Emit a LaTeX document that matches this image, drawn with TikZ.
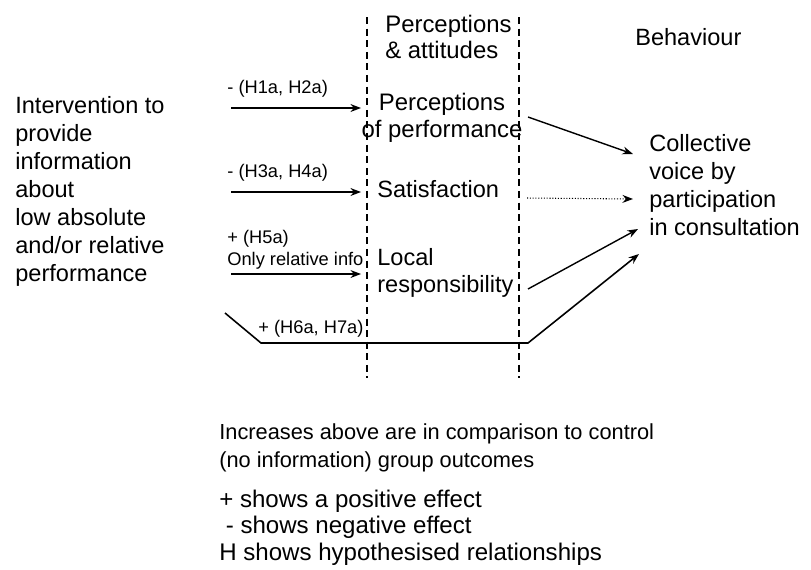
\documentclass[tikz,border=0pt]{standalone}
\usepackage{fontspec}
\setmainfont{Liberation Sans}
\usetikzlibrary{arrows.meta, positioning}

\begin{document}
\begin{tikzpicture}[x=0.02cm, y=-0.02cm,
      txt/.style={inner sep=0pt, align=left, font=\fontsize{13.4}{15.9}\selectfont},
      lbl/.style={inner sep=0pt, align=left, font=\fontsize{10.4}{12.5}\selectfont},
      arr/.style={line width=0.8pt, -{Stealth[length=6pt, width=4.5pt]}},
      guide/.style={line width=0.8pt, dash pattern=on 4pt off 2.6pt}]
    \useasboundingbox (0,0) rectangle (811,569);

    % column guides
    \coordinate (g1t) at (367,17); \coordinate (g1b) at (367,378);
    \coordinate (g2t) at (519,17); \coordinate (g2b) at (519,378);
    \draw[guide] (g1t) -- (g1b);
    \draw[guide] (g2t) -- (g2b);

    % headings (base = last line)
    \node[txt, anchor=base west, font=\fontsize{13.6}{14.8}\selectfont] (hd) at (385,58) {Perceptions\\\& attitudes};
    \node[txt, anchor=base west] (bh) at (635,45) {Behaviour};

    % boxes
    \node[txt, anchor=base west] (iv) at (15,281) {Intervention to\\provide\\information\\about\\low absolute\\and/or relative\\performance};
    \node[txt, align=center, anchor=base, font=\fontsize{13.6}{15.3}\selectfont] (pp) at (442,137) {Perceptions\\of performance};
    \node[txt, anchor=base west] (sf) at (377,197) {Satisfaction};
    \node[txt, anchor=base west, font=\fontsize{13.4}{15.3}\selectfont] (lr) at (377,292) {Local\\responsibility};
    \node[txt, anchor=base west] (cv) at (649,235) {Collective\\voice by\\participation\\in consultation};

    % hypothesis labels
    \node[lbl, anchor=base west] (l1) at (227,93) {- (H1a, H2a)};
    \node[lbl, anchor=base west] (l2) at (227,177) {- (H3a, H4a)};
    \node[lbl, anchor=base west] (l3) at (227,265) {+ (H5a)\\Only relative info};
    \node[lbl, anchor=base west] (l4) at (258,333) {+ (H6a, H7a)};

    % intervention -> perceptions & attitudes
    \coordinate (a1) at (231,108);
    \coordinate (a2) at (231,192);
    \coordinate (a3) at (231,274);
    \draw[arr, shorten >=3.4pt] (a1) -- (a1 -| g1t);
    \draw[arr, shorten >=3.4pt] (a2) -- (a2 -| g1t);
    \draw[arr, shorten >=3.4pt] (a3) -- (a3 -| g1t);

    % perceptions & attitudes -> behaviour
    \coordinate (o1) at (528,117); \coordinate (v1) at (633,154);
    \coordinate (o2) at (527,198); \coordinate (v2) at (633,199);
    \coordinate (o3) at (528,289); \coordinate (v3) at (638,229);
    \draw[arr] (o1) -- (v1);
    \draw[arr, line width=0.6pt, densely dotted] (o2) -- (v2);
    \draw[arr] (o3) -- (v3);

    % direct path
    \coordinate (b0) at (225,313); \coordinate (b1) at (261,343);
    \coordinate (b2) at (528,343); \coordinate (v4) at (639,254);
    \draw[arr, line width=0.9pt] (b0) -- (b1) -- (b2) -- (v4);

    % notes
    \node[txt, anchor=base west, font=\fontsize{12.4}{15.9}\selectfont] (nt) at (219,467) {Increases above are in comparison to control\\(no information) group outcomes};
    \node[txt, anchor=base west, font=\fontsize{13.7}{15}\selectfont] (key) at (219,560) {+ shows a positive effect\\\hspace*{3.7pt}- shows negative effect\\H shows hypothesised relationships};
  \end{tikzpicture}
\end{document}
